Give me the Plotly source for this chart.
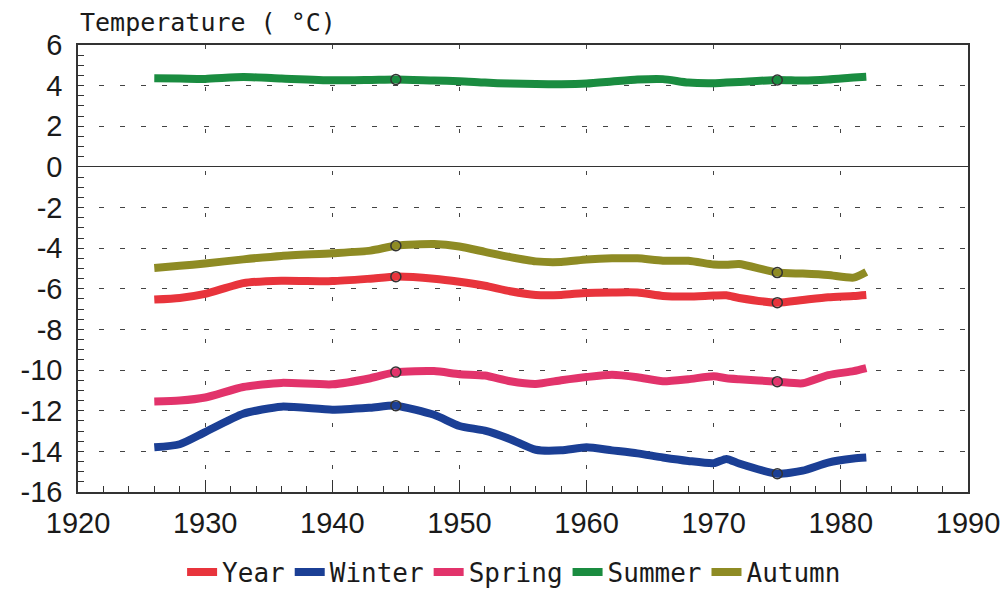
import plotly.graph_objects as go

YEARS = [1926, 1928, 1930, 1933, 1936, 1940, 1943, 1945, 1948, 1950, 1952, 1954, 1956,
         1958, 1960, 1962, 1964, 1966, 1968, 1970, 1971, 1972, 1975, 1977, 1979, 1981, 1982]

YEAR = [-6.53, -6.45, -6.25, -5.72, -5.6, -5.62, -5.5, -5.4, -5.5, -5.65, -5.85, -6.12, -6.3,
        -6.3, -6.2, -6.18, -6.18, -6.35, -6.38, -6.33, -6.32, -6.45, -6.68, -6.55, -6.42, -6.35, -6.3]
WINTER = [-13.8, -13.65, -13.05, -12.15, -11.8, -11.95, -11.85, -11.75, -12.2, -12.75, -12.98, -13.4, -13.92,
          -13.95, -13.8, -13.95, -14.1, -14.3, -14.47, -14.58, -14.37, -14.6, -15.1, -14.95, -14.55, -14.35, -14.3]
SPRING = [-11.55, -11.5, -11.35, -10.83, -10.63, -10.7, -10.4, -10.1, -10.05, -10.2, -10.27, -10.55, -10.68,
          -10.5, -10.34, -10.23, -10.35, -10.55, -10.45, -10.3, -10.4, -10.45, -10.57, -10.65, -10.25, -10.05, -9.9]
SUMMER = [4.36, 4.35, 4.33, 4.42, 4.35, 4.26, 4.28, 4.3, 4.25, 4.22, 4.15, 4.1, 4.08,
          4.07, 4.1, 4.2, 4.3, 4.32, 4.15, 4.12, 4.15, 4.18, 4.28, 4.25, 4.3, 4.4, 4.44]
AUTUMN = [-4.97, -4.87, -4.75, -4.55, -4.38, -4.25, -4.12, -3.88, -3.8, -3.92, -4.18, -4.44, -4.65,
          -4.68, -4.56, -4.5, -4.5, -4.62, -4.62, -4.8, -4.82, -4.78, -5.2, -5.25, -5.32, -5.45, -5.17]

MARK_YEARS = [1945, 1975]

SERIES = [
    ("Year", YEAR, "#e8343c"),
    ("Winter", WINTER, "#1b3f95"),
    ("Spring", SPRING, "#e2336b"),
    ("Summer", SUMMER, "#1a8c40"),
    ("Autumn", AUTUMN, "#8e8b24"),
]

Y_TICKS = [-16, -14, -12, -10, -8, -6, -4, -2, 0, 2, 4, 6]
Y_TICK_TEXT = ["-16", "-14", "-12", "-10", "-8", "-6", "-4", "-2", "0", "2", "4", "6"]
X_TICKS = [1920, 1930, 1940, 1950, 1960, 1970, 1980, 1990]

fig = go.Figure()
for name, vals, color in SERIES:
    fig.add_trace(go.Scatter(
        x=YEARS, y=vals, name=name, mode="lines",
        line=dict(color=color, width=8, shape="spline", smoothing=0.6),
    ))
for name, vals, color in SERIES:
    mx = [y for y in MARK_YEARS]
    my = [vals[YEARS.index(y)] for y in MARK_YEARS]
    fig.add_trace(go.Scatter(
        x=mx, y=my, mode="markers", showlegend=False, hoverinfo="skip",
        marker=dict(symbol="circle-open", size=10, color="#333333", line=dict(width=1.5)),
    ))

axis_font = dict(family="Liberation Sans, Arial, sans-serif", size=29, color="#1a1a1a")

fig.update_layout(
    width=1008, height=592,
    margin=dict(l=78, r=40, t=45, b=100, autoexpand=False),
    paper_bgcolor="white", plot_bgcolor="white",
    showlegend=True,
    legend=dict(orientation="h", x=0.49, xanchor="center", y=-0.179, yanchor="middle",
                font=dict(family="DejaVu Sans Mono, monospace", size=26, color="#1a1a1a"),
                itemwidth=30, tracegroupgap=0),
    xaxis=dict(
        range=[1920, 1990], tickvals=X_TICKS, tickfont=axis_font,
        ticks="inside", ticklen=12, tickcolor="#333", tickwidth=1,
        showline=True, linecolor="#333", linewidth=1.5, mirror=True,
        showgrid=True, gridcolor="#444", gridwidth=1, griddash="4px,38px",
        zeroline=False, ticklabelstandoff=4,
        minor=dict(dtick=2, ticks="inside", ticklen=6, tickcolor="#333", showgrid=False),
    ),
    yaxis=dict(
        range=[-16, 6], tickvals=Y_TICKS, ticktext=Y_TICK_TEXT, tickfont=axis_font,
        ticks="inside", ticklen=6, tickcolor="#333", tickwidth=1,
        showline=True, linecolor="#333", linewidth=1.5, mirror=True,
        showgrid=True, gridcolor="#444", gridwidth=1, griddash="5px,16px",
        zeroline=True, zerolinecolor="#333", zerolinewidth=1.2,
        ticklabelstandoff=8,
        minor=dict(dtick=0.5, ticks="inside", ticklen=6, tickcolor="#333", showgrid=False),
    ),
    annotations=[dict(
        text="Temperature ( °C)", xref="paper", yref="paper", x=0.0, y=1.0,
        xanchor="left", yanchor="bottom", yshift=6, showarrow=False,
        font=dict(family="DejaVu Sans Mono, monospace", size=25, color="#1a1a1a"),
    )],
)

fig.write_html("out.html")
